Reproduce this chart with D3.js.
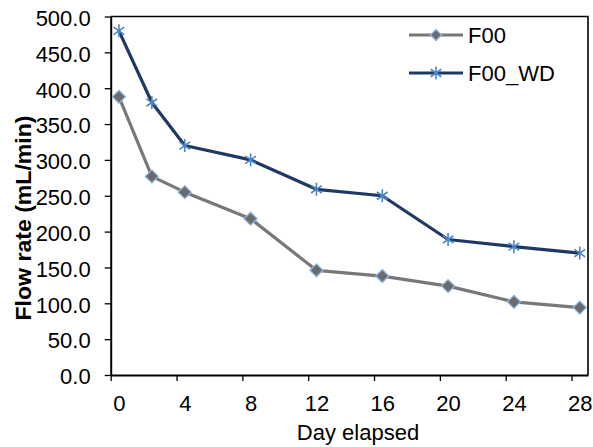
<!DOCTYPE html>
<html>
<head>
<meta charset="utf-8">
<script src="https://cdn.jsdelivr.net/npm/d3@7"></script>
<style>
  html, body { margin: 0; padding: 0; background: #fff; }
  svg { display: block; font-family: "Liberation Sans", Arial, sans-serif; }
</style>
</head>
<body>
<svg id="chart" width="593" height="447"></svg>
<script>
// Sampling days (points sit half a day past each whole-day tick)
const days = [0.5, 2.5, 4.5, 8.5, 12.5, 16.5, 20.5, 24.5, 28.5];
// Flow rate, mL/min
const f00   = [388, 277, 255, 218, 146, 138, 124, 102, 94];
const f00wd = [480, 380, 320, 300, 259, 250, 189, 179, 170];
const seriesNames = ["F00", "F00_WD"];
const xTicks = [0, 4, 8, 12, 16, 20, 24, 28];
const yTicks = [0, 50, 100, 150, 200, 250, 300, 350, 400, 450, 500];

const svg = d3.select("#chart");
const plotLeft = 110.7, plotRight = 588, plotTop = 16.5, plotBottom = 375;

const x = d3.scaleLinear().domain([0, 29]).range([plotLeft, plotRight]);
const y = d3.scaleLinear().domain([0, 500]).range([plotBottom, plotTop]);

const fontSize = 22;

// plot frame (top and right edges)
svg.append("path")
  .attr("d", `M${plotLeft},${plotTop}H${plotRight}V${plotBottom}`)
  .attr("fill", "none").attr("stroke", "#000").attr("stroke-width", 1.6);

// y axis
const yAxis = svg.append("g")
  .attr("transform", `translate(${plotLeft},0)`)
  .call(d3.axisLeft(y).tickValues(yTicks).tickFormat(d3.format(".1f")).tickSize(6).tickSizeOuter(0).tickPadding(14));
yAxis.select(".domain").attr("stroke", "#000").attr("stroke-width", 2);
yAxis.selectAll(".tick line").attr("stroke", "#000").attr("stroke-width", 1.3);
yAxis.selectAll(".tick text").attr("font-size", fontSize).attr("fill", "#000")
  .attr("font-family", "Liberation Sans, Arial, sans-serif")
  .attr("dy", "0.4em");

// x axis; labels are centred under the day's sampling point
const xAxis = svg.append("g")
  .attr("transform", `translate(0,${plotBottom})`)
  .call(d3.axisBottom(x).tickValues(xTicks).tickFormat(d3.format("d")).tickSize(6).tickSizeOuter(0).tickPadding(14));
xAxis.select(".domain").attr("stroke", "#000").attr("stroke-width", 2);
xAxis.selectAll(".tick line").attr("stroke", "#000").attr("stroke-width", 1.3);
const labelShift = x(0.5) - x(0);
xAxis.selectAll(".tick text").attr("font-size", fontSize).attr("fill", "#000")
  .attr("font-family", "Liberation Sans, Arial, sans-serif")
  .attr("dx", labelShift);

// axis titles
svg.append("text")
  .attr("x", 358).attr("y", 440)
  .attr("text-anchor", "middle")
  .attr("font-size", fontSize)
  .text("Day elapsed");

svg.append("text")
  .attr("transform", `translate(31,218) rotate(-90)`)
  .attr("text-anchor", "middle")
  .attr("font-size", fontSize)
  .attr("font-weight", "bold")
  .attr("textLength", 205)
  .attr("lengthAdjust", "spacingAndGlyphs")
  .text("Flow rate (mL/min)");

const line = d3.line().x(d => x(d[0])).y(d => y(d[1]));

const grayLine = "#787878", diamondFill = "#6b6b6b", diamondEdge = "#8fb4e3";
const navyLine = "#1f3864", starColor = "#4a86c8";

const diamond = s => `M0,${-s}L${s},0L0,${s}L${-s},0Z`;
function drawStar(g, cx, cy, r) {
  const a = 35 * Math.PI / 180;
  const dx = r * Math.cos(a), dy = r * Math.sin(a);
  g.append("path")
    .attr("d", `M${cx},${cy - r}V${cy + r}M${cx - dx},${cy - dy}L${cx + dx},${cy + dy}M${cx - dx},${cy + dy}L${cx + dx},${cy - dy}`)
    .attr("stroke", starColor).attr("stroke-width", 1.6).attr("fill", "none");
}

// F00 series
const p1 = days.map((d, i) => [d, f00[i]]);
svg.append("path").datum(p1).attr("d", line)
  .attr("fill", "none").attr("stroke", grayLine).attr("stroke-width", 3.2).attr("stroke-linejoin", "round");
svg.append("g").selectAll("path").data(p1).join("path")
  .attr("transform", d => `translate(${x(d[0])},${y(d[1])})`)
  .attr("d", diamond(6.5))
  .attr("fill", diamondFill).attr("stroke", diamondEdge).attr("stroke-width", 1.3);

// F00_WD series
const p2 = days.map((d, i) => [d, f00wd[i]]);
svg.append("path").datum(p2).attr("d", line)
  .attr("fill", "none").attr("stroke", navyLine).attr("stroke-width", 3.2).attr("stroke-linejoin", "round");
const stars = svg.append("g");
p2.forEach(d => drawStar(stars, x(d[0]), y(d[1]), 6.5));

// legend
const lg = svg.append("g");
const lx0 = 409, lx1 = 463, lmx = 436;
lg.append("line").attr("x1", lx0).attr("x2", lx1).attr("y1", 35).attr("y2", 35)
  .attr("stroke", grayLine).attr("stroke-width", 3.2);
lg.append("path").attr("transform", `translate(${lmx},35)`).attr("d", diamond(5.5))
  .attr("fill", diamondFill).attr("stroke", diamondEdge).attr("stroke-width", 1.3);
lg.append("text").attr("x", 468).attr("y", 43).attr("font-size", fontSize).text(seriesNames[0]);

lg.append("line").attr("x1", lx0).attr("x2", lx1).attr("y1", 73).attr("y2", 73)
  .attr("stroke", navyLine).attr("stroke-width", 3.2);
drawStar(lg, lmx, 73, 6.5);
lg.append("text").attr("x", 468).attr("y", 81).attr("font-size", fontSize).text(seriesNames[1]);
</script>
</body>
</html>
